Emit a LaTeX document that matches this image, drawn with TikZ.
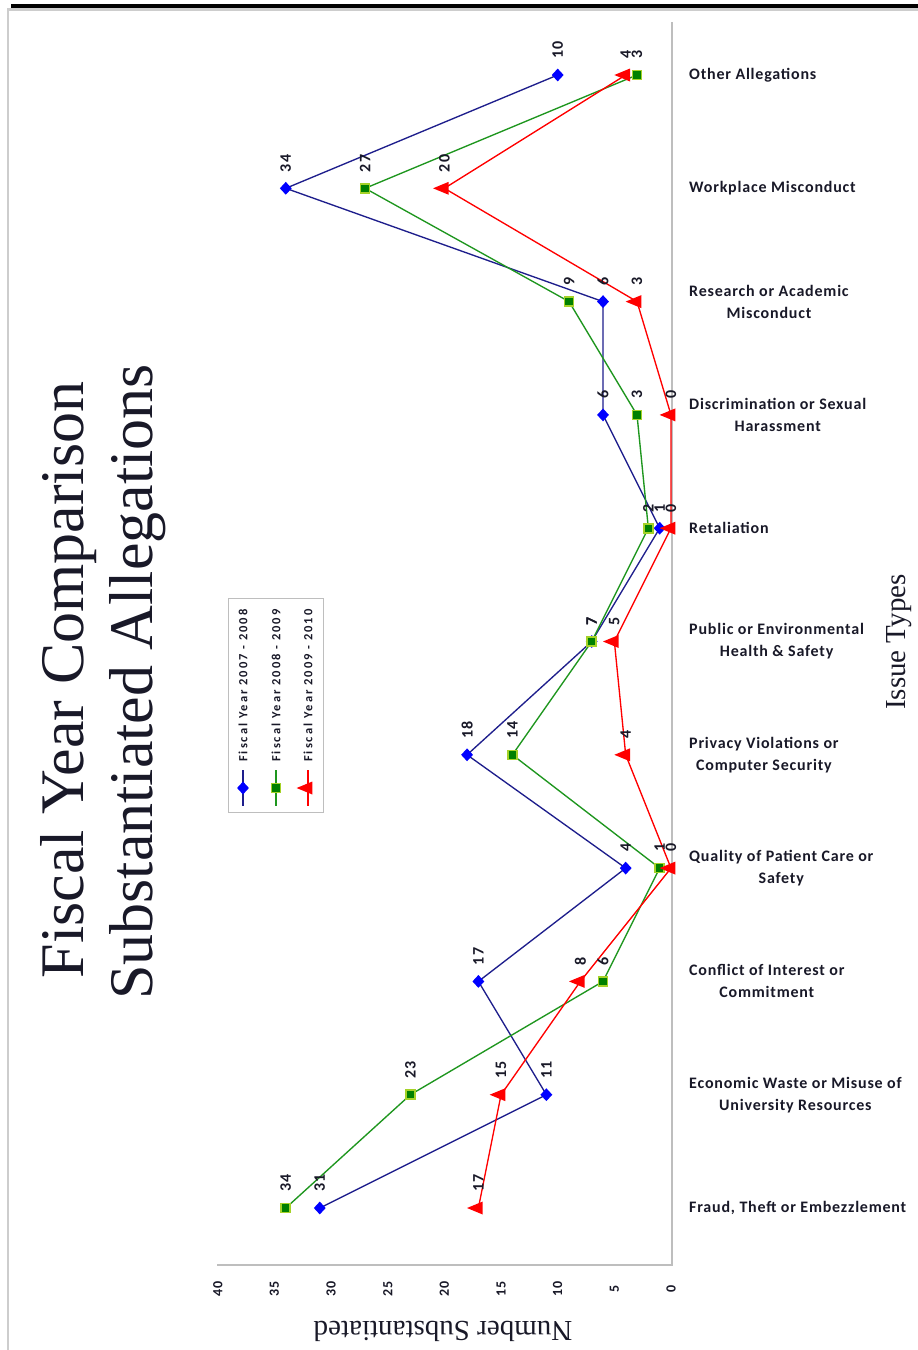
\documentclass[tikz,border=0pt]{standalone}
\usepackage{fontspec}
\setmainfont{Liberation Serif}
\newfontfamily\catfont[LetterSpace=5]{Carlito Bold}
\newfontfamily\legfont[LetterSpace=16]{Carlito Bold}
\newfontfamily\numfont[LetterSpace=8]{Carlito Bold}
\usetikzlibrary{shapes.geometric}
\definecolor{bmark}{RGB}{0,0,255}
\definecolor{bline}{RGB}{30,30,140}
\definecolor{gline}{RGB}{30,150,30}
\definecolor{gfill}{RGB}{0,128,0}
\definecolor{gedge}{RGB}{165,210,40}
\definecolor{rline}{RGB}{255,0,0}
\definecolor{framegray}{RGB}{205,205,205}
\definecolor{axisgray}{RGB}{190,190,190}
\definecolor{txt}{RGB}{25,25,40}
\begin{document}
\begin{tikzpicture}[x=1pt,y=-1pt,
  bser/.style={draw=bline,line width=1.35pt},
  gser/.style={draw=gline,line width=1.35pt},
  rser/.style={draw=rline,line width=1.35pt},
  bdia/.style={diamond,fill=bmark,inner sep=0pt,minimum width=12pt,minimum height=13pt},
  gsq/.style={rectangle,fill=gfill,draw=gedge,line width=1.6pt,inner sep=0pt,minimum size=9pt},
  rtri/.style={isosceles triangle,shape border rotate=180,fill=rline,inner sep=0pt,minimum width=13pt,minimum height=14pt},
  dlab/.style={rotate=90,anchor=west,inner sep=0pt,text=txt,font={\numfont\fontsize{16}{16}\selectfont}},
  ticklab/.style={rotate=90,inner sep=0pt,text=txt,font={\numfont\fontsize{14}{14}\selectfont}},
  catlab/.style={anchor=west,inner sep=0pt,align=center,text=txt,font={\catfont\fontsize{16}{22}\selectfont}},
  leglab/.style={rotate=90,anchor=west,inner sep=0pt,text=txt,font={\legfont\fontsize{12.5}{12.5}\selectfont}},
  titlab/.style={rotate=90,anchor=base,inner sep=0pt,text=txt,font={\fontsize{62}{62}\selectfont}},
  axlab/.style={anchor=base,inner sep=0pt,text=txt,font={\fontsize{29}{29}\selectfont}}]
\useasboundingbox (0,0) rectangle (918,1350);
\fill[white] (0,0) rectangle (918,1350);
% page frame
\fill[black] (11,4) rectangle (918,8);
\draw[framegray,line width=2.5pt] (8,1350) -- (8,9.5) -- (918,9.5);
% plot area frame
\draw[axisgray,line width=1.5pt] (672,22) -- (672,1265) -- (217,1265);
% titles
\node[titlab] (t1) at (83,680) {Fiscal Year Comparison};
\node[titlab] (t2) at (152,682) {Substantiated Allegations};
\node[axlab,rotate=90] (ax1) at (905,642) {Issue Types};
\node[axlab,rotate=180] (ax2) at (443,1321) {Number Substantiated};
% tick labels
\foreach \v in {0,5,...,40}
  \node[ticklab] (tk\v) at ({671-11.33*\v},1289) {\v};
% category labels
\foreach \t [count=\i from 0] in {{Other Allegations},{Workplace Misconduct},{Research or Academic\\Misconduct},{Discrimination or Sexual\\Harassment},{Retaliation},{Public or Environmental\\Health \& Safety},{Privacy Violations or\\Computer Security},{Quality of Patient Care or\\Safety},{Conflict of Interest or\\Commitment},{Economic Waste or Misuse of\\University Resources},{Fraud, Theft or Embezzlement}}
  \node[catlab] (c\i) at (689,{75+113.3*\i}) {\t};
% series 2007-2008
\foreach \v [count=\i from 0] in {10,34,6,6,1,7,18,4,17,11,31}
  \coordinate (b\i) at ({671-11.33*\v},{75+113.3*\i});
\draw[bser] (b0) \foreach \i in {1,...,10}{ -- (b\i)};
\foreach \i in {0,...,10} \node[bdia] (bm\i) at (b\i) {};
% series 2008-2009
\foreach \v [count=\i from 0] in {3,27,9,3,2,7,14,1,6,23,34}
  \coordinate (g\i) at ({671-11.33*\v},{75+113.3*\i});
\draw[gser] (g0) \foreach \i in {1,...,10}{ -- (g\i)};
\foreach \i in {0,...,10} \node[gsq] (gm\i) at (g\i) {};
% series 2009-2010
\foreach \v [count=\i from 0] in {4,20,3,0,0,5,4,0,8,15,17}
  \coordinate (r\i) at ({671-11.33*\v},{75+113.3*\i});
\draw[rser] (r0) \foreach \i in {1,...,10}{ -- (r\i)};
\foreach \i in {0,...,10} \node[rtri] (rm\i) at (r\i) {};
% data labels
\foreach \v [count=\i from 0] in {10,34,6,6,1,7,18,4,17,11,31}
  \node[dlab] (bl\i) at ([yshift=16pt]b\i) {\v};
\foreach \v [count=\i from 0] in {3,27,9,3,2,7,14,1,6,23,34}
  \node[dlab] (gl\i) at ([yshift=16pt]g\i) {\v};
\foreach \v [count=\i from 0] in {4,20,3,0,0,5,4,0,8,15,17}
  \node[dlab] (rl\i) at ([yshift=16pt]r\i) {\v};
% legend
\node[draw=axisgray,line width=1pt,minimum width=95pt,minimum height=214pt,inner sep=0pt] (leg) at (275.5,705) {};
\coordinate (lb1) at (243,770); \coordinate (lb2) at (243,806);
\coordinate (lg1) at (276,770); \coordinate (lg2) at (276,806);
\coordinate (lr1) at (308,770); \coordinate (lr2) at (308,806);
\draw[bser] (lb1) -- (lb2);
\draw[gser] (lg1) -- (lg2);
\draw[rser] (lr1) -- (lr2);
\node[bdia] (lbm) at (243,788) {};
\node[gsq] (lgm) at (276,788) {};
\node[rtri] (lrm) at (308,788) {};
\node[leglab] (lbt) at (243,762) {Fiscal Year 2007 - 2008};
\node[leglab] (lgt) at (276,762) {Fiscal Year 2008 - 2009};
\node[leglab] (lrt) at (308,762) {Fiscal Year 2009 - 2010};
\end{tikzpicture}
\end{document}
